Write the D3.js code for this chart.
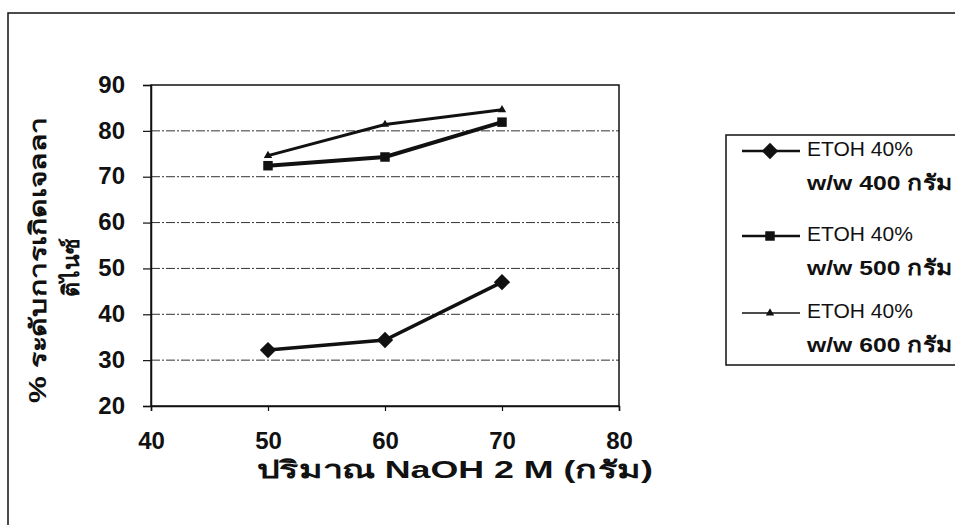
<!DOCTYPE html>
<html>
<head>
<meta charset="utf-8">
<script src="https://cdn.jsdelivr.net/npm/d3@7"></script>
<style>
  body { margin: 0; background: #fff; }
  svg { display: block; font-family: "Liberation Sans", Arial, sans-serif; }
</style>
</head>
<body>
<svg id="chart" width="955" height="525"></svg>
<script>
// ข้อมูล
const naoh = [50, 60, 70];
const etoh400 = [32.2, 34.4, 47.0];
const etoh500 = [72.4, 74.3, 81.9];
const etoh600 = [74.6, 81.4, 84.6];
const seriesLabels = [
  ["ETOH 40%", "w/w 400 กรัม"],
  ["ETOH 40%", "w/w 500 กรัม"],
  ["ETOH 40%", "w/w 600 กรัม"]
];
const xTicks = [40, 50, 60, 70, 80];
const yTicks = [20, 30, 40, 50, 60, 70, 80, 90];

const svg = d3.select("#chart");

// กรอบนอก
svg.append("path")
  .attr("d", "M8,525 V13 H955")
  .attr("fill", "none")
  .attr("stroke", "#111")
  .attr("stroke-width", 1.5);

const plot = {left: 151, right: 619, top: 85, bottom: 406};

const x = d3.scaleLinear().domain([40, 80]).range([plot.left, plot.right]);
const y = d3.scaleLinear().domain([20, 90]).range([plot.bottom, plot.top]);

// เส้นกริด
svg.append("g")
  .selectAll("line")
  .data(yTicks.filter(d => d > 20 && d < 90))
  .join("line")
  .attr("x1", plot.left).attr("x2", plot.right)
  .attr("y1", d => y(d)).attr("y2", d => y(d))
  .attr("stroke", "#333")
  .attr("stroke-width", 1)
  .attr("stroke-dasharray", "9,2,2,2");

// กรอบพื้นที่กราฟ
svg.append("rect")
  .attr("x", plot.left).attr("y", plot.top)
  .attr("width", plot.right - plot.left).attr("height", plot.bottom - plot.top)
  .attr("fill", "none")
  .attr("stroke", "#111")
  .attr("stroke-width", 1.5);

// แกน
const xAxis = svg.append("g")
  .attr("transform", `translate(0,${plot.bottom})`)
  .call(d3.axisBottom(x).tickValues(xTicks).tickSize(5));
const yAxis = svg.append("g")
  .attr("transform", `translate(${plot.left},0)`)
  .call(d3.axisLeft(y).tickValues(yTicks).tickSize(8).tickPadding(18));

[xAxis, yAxis].forEach(a => {
  a.select(".domain").attr("stroke", "#111").attr("stroke-width", 1.5);
  a.selectAll(".tick line").attr("stroke", "#111").attr("stroke-width", 1.2);
  a.selectAll(".tick text")
    .attr("fill", "#111")
    .attr("font-size", 24)
    .attr("font-weight", "bold")
    .attr("font-family", "Liberation Sans, Arial, sans-serif");
});
xAxis.selectAll(".tick text").attr("y", 35).attr("dy", "0.35em");
yAxis.selectAll(".tick text").attr("dy", "0.3em");

// เส้นข้อมูล
const series = [
  {values: etoh400, width: 3.5, marker: "diamond"},
  {values: etoh500, width: 4, marker: "square"},
  {values: etoh600, width: 3, marker: "triangle"}
];

const line = d3.line().x(d => x(d[0])).y(d => y(d[1]));

const symbolOf = {
  diamond: d3.symbol().type(d3.symbolDiamond2).size(170),
  square: d3.symbol().type(d3.symbolSquare).size(90),
  triangle: d3.symbol().type(d3.symbolTriangle).size(30)
};

series.forEach(s => {
  const pts = naoh.map((n, i) => [n, s.values[i]]);
  svg.append("path")
    .datum(pts)
    .attr("d", line)
    .attr("fill", "none")
    .attr("stroke", "#111")
    .attr("stroke-width", s.width);
  svg.append("g")
    .selectAll("path")
    .data(pts)
    .join("path")
    .attr("transform", d => `translate(${x(d[0])},${y(d[1])})`)
    .attr("d", symbolOf[s.marker])
    .attr("fill", "#111");
});

// ชื่อแกน
svg.append("text")
  .attr("x", 257).attr("y", 478)
  .attr("font-size", 24)
  .attr("font-weight", "bold")
  .attr("fill", "#111")
  .attr("textLength", 396)
  .attr("lengthAdjust", "spacingAndGlyphs")
  .text("ปริมาณ NaOH 2 M (กรัม)");

const yTitle = svg.append("g").attr("transform", "translate(0,260) rotate(-90)");
yTitle.append("text")
  .attr("x", -143).attr("y", 46)
  .attr("font-size", 23)
  .attr("font-weight", "bold")
  .attr("fill", "#111")
  .attr("textLength", 286)
  .attr("lengthAdjust", "spacingAndGlyphs")
  .text("% ระดับการเกิดเจลลา");
yTitle.append("text")
  .attr("x", -7).attr("y", 79)
  .attr("text-anchor", "middle")
  .attr("font-size", 23)
  .attr("font-weight", "bold")
  .attr("fill", "#111")
  .text("ติไนซ์");

// คำอธิบาย
const legend = svg.append("g");
legend.append("path")
  .attr("d", "M955,135 H726 V365 H955")
  .attr("fill", "none")
  .attr("stroke", "#111")
  .attr("stroke-width", 1.5);

const legendY = [156, 241, 318];
series.forEach((s, i) => {
  const ly = legendY[i];
  legend.append("line")
    .attr("x1", 742).attr("x2", 800)
    .attr("y1", ly - 5).attr("y2", ly - 5)
    .attr("stroke", "#111")
    .attr("stroke-width", i === 2 ? 1.5 : 2.5);
  legend.append("path")
    .attr("transform", `translate(770,${ly - 5})`)
    .attr("d", symbolOf[s.marker])
    .attr("fill", "#111");
  legend.append("text")
    .attr("x", 807).attr("y", ly)
    .attr("font-size", 21)
    .attr("fill", "#111")
    .text(seriesLabels[i][0]);
  legend.append("text")
    .attr("x", 807).attr("y", ly + 34)
    .attr("font-size", 21)
    .attr("font-weight", "bold")
    .attr("fill", "#111")
    .attr("textLength", 145)
    .attr("lengthAdjust", "spacingAndGlyphs")
    .text(seriesLabels[i][1]);
});
</script>
</body>
</html>
